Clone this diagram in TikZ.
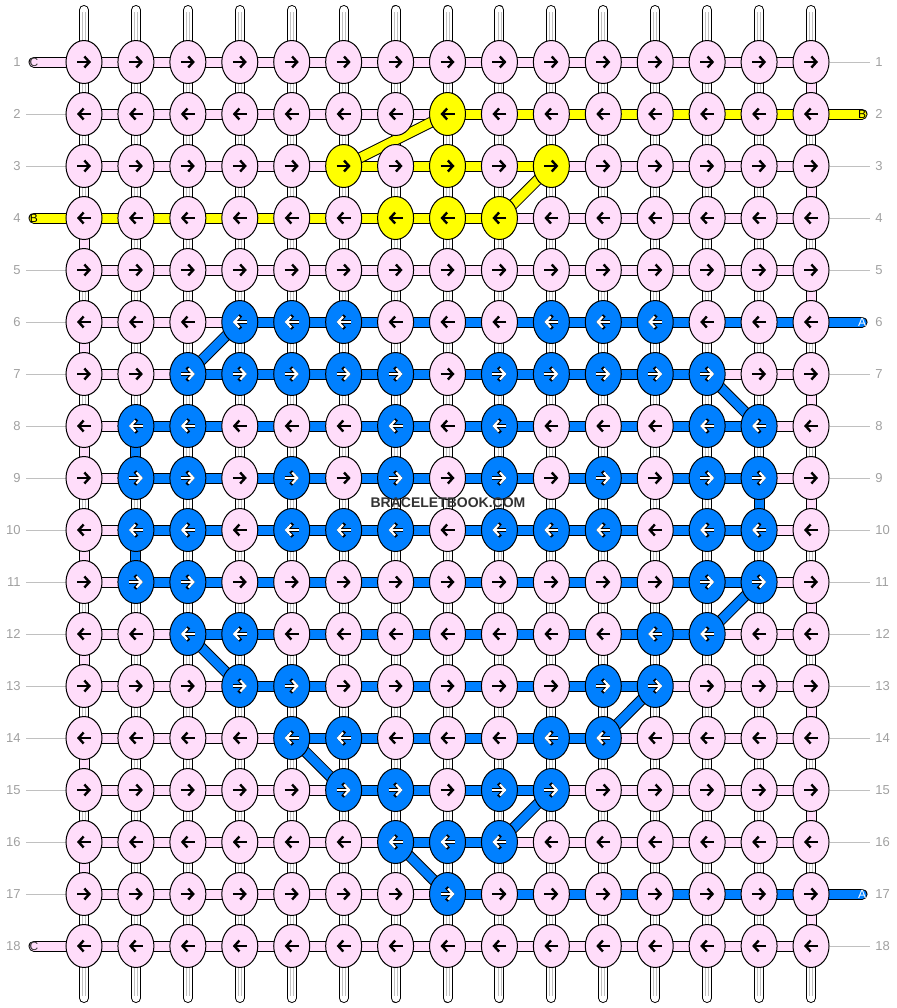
\documentclass[tikz,border=0pt]{standalone}
\usepackage{fontspec}
\setmainfont{Liberation Sans}
\usetikzlibrary{arrows.meta,shapes.geometric}

\definecolor{bbpink}{RGB}{255,221,250}
\definecolor{bbblue}{RGB}{0,128,255}
\definecolor{bbyellow}{RGB}{255,255,0}
\definecolor{bbgray}{RGB}{160,160,160}
\definecolor{bbline}{RGB}{192,192,192}
\definecolor{bbmark}{RGB}{51,51,51}

\pgfdeclarelayer{strings}
\pgfsetlayers{strings,main}

\tikzset{
  knot/.style={ellipse, draw=black, line width=0.5pt, minimum width=18pt, minimum height=21.5pt, inner sep=0pt},
  knotp/.style={knot, fill=bbpink},
  knoty/.style={knot, fill=bbyellow},
  knotb/.style={knot, fill=bbblue},
  knottip/.style={-{Straight Barb[length=2.5pt,width=5.5pt]}},
  arrowp/.style={knottip, line width=1.2pt, draw=black},
  arrowy/.style={arrowp},
  arrowb/.style={knottip, line width=1.1pt, draw=white},
  rimp/.style={draw=none},
  rimy/.style={draw=none},
  rimb/.style={-{Straight Barb[length=2.9pt,width=6.6pt]}, line width=1.7pt, draw=black},
  strand/.style={draw=black, line width=0.5pt, double=#1, double distance=4.5pt},
  tube/.style={strand=white, double distance=4pt, line cap=round},
  tubeline/.style={draw=bbline, line width=0.4pt},
  guide/.style={draw=bbline, line width=0.5pt},
  rowno/.style={inner sep=0pt, text=bbgray, font=\fontsize{6.5}{7}\selectfont},
  endtag/.style={inner sep=0pt, font=\fontsize{6}{7}\selectfont},
  watermark/.style={inner sep=0pt, text=bbmark, font=\fontsize{7}{8}\selectfont\bfseries}
}

\begin{document}
\begin{tikzpicture}[x=0.5pt,y=-0.5pt]
\useasboundingbox (0,0) rectangle (896,1008);

% knots, row by row
\foreach \row [count=\r] in {
  {p,p,p,p,p,p,p,p,p,p,p,p,p,p,p},
  {p,p,p,p,p,p,p,y,p,p,p,p,p,p,p},
  {p,p,p,p,p,y,p,y,p,y,p,p,p,p,p},
  {p,p,p,p,p,p,y,y,y,p,p,p,p,p,p},
  {p,p,p,p,p,p,p,p,p,p,p,p,p,p,p},
  {p,p,p,b,b,b,p,p,p,b,b,b,p,p,p},
  {p,p,b,b,b,b,b,p,b,b,b,b,b,p,p},
  {p,b,b,p,p,p,b,p,b,p,p,p,b,b,p},
  {p,b,b,p,b,p,b,p,b,p,b,p,b,b,p},
  {p,b,b,p,b,b,b,p,b,b,b,p,b,b,p},
  {p,b,b,p,p,p,p,p,p,p,p,p,b,b,p},
  {p,p,b,b,p,p,p,p,p,p,p,b,b,p,p},
  {p,p,p,b,b,p,p,p,p,p,b,b,p,p,p},
  {p,p,p,p,b,b,p,p,p,b,b,p,p,p,p},
  {p,p,p,p,p,b,b,p,b,b,p,p,p,p,p},
  {p,p,p,p,p,p,b,b,b,p,p,p,p,p,p},
  {p,p,p,p,p,p,p,b,p,p,p,p,p,p,p},
  {p,p,p,p,p,p,p,p,p,p,p,p,p,p,p}}{
  \ifodd\r\relax \def\da{-7}\def\db{7}\else \def\da{7}\def\db{-7}\fi
  \foreach \k [count=\c] in \row {
    \node[knot\k] (k-\r-\c) at ({84+(\c-1)*51.93},{62+(\r-1)*52}) {};
    \draw[rim\k] ([shift={(\da,0)}]k-\r-\c.center) -- ([shift={(\db,0)}]k-\r-\c.center);
    \draw[arrow\k] ([shift={(\da,0)}]k-\r-\c.center) -- ([shift={(\db,0)}]k-\r-\c.center);
  }
}

% row numbers and string ends
\foreach \r in {1,...,18} {
  \node[rowno, anchor=east] (ln-\r) at (21,{62+(\r-1)*52}) {\r};
  \node[rowno, anchor=west] (rn-\r) at (875,{62+(\r-1)*52}) {\r};
}
\foreach \r/\t/\tc in {1/C/bbmark, 4/B/black, 18/C/bbmark}
  \node[endtag, text=\tc] (le-\r) at (34,{62+(\r-1)*52}) {\t};
\foreach \r/\t/\tc in {2/B/black, 6/A/white, 17/A/white}
  \node[endtag, text=\tc] (re-\r) at (862,{62+(\r-1)*52}) {\t};

\node[watermark] (wm) at (448,503) {BRACELETBOOK.COM};

\begin{pgfonlayer}{strings}
  % base strings
  \foreach \c in {1,...,15} {
    \coordinate (top-\c) at ({84+(\c-1)*51.93},10);
    \coordinate (bot-\c) at ({84+(\c-1)*51.93},998);
    \draw[tube] (top-\c) -- (bot-\c);
    \draw[tubeline] ([shift={(-1.5,2)}]top-\c) -- ([shift={(-1.5,-2)}]bot-\c);
    \draw[tubeline] ([shift={(1.5,2)}]top-\c) -- ([shift={(1.5,-2)}]bot-\c);
  }
  % turns at the edges
  \foreach \r [evaluate=\r as \s using int(\r+1)] in {1,3,...,17}
    \draw[strand=bbpink] (k-\r-15.center) -- (k-\s-15.center);
  \foreach \r [evaluate=\r as \s using int(\r+1)] in {4,6,...,16}
    \draw[strand=bbpink] (k-\r-1.center) -- (k-\s-1.center);
  \foreach \r/\c [evaluate=\r as \s using int(\r+1)] in {8/2, 10/2, 9/14}
    \draw[strand=bbblue] (k-\r-\c.center) -- (k-\s-\c.center);
  % rows
  \foreach \r/\a/\b/\col in {
    1/1/15/bbpink,
    2/1/8/bbpink, 2/8/15/bbyellow,
    3/1/6/bbpink, 3/6/10/bbyellow, 3/10/15/bbpink,
    4/1/9/bbyellow, 4/9/15/bbpink,
    5/1/15/bbpink,
    6/1/4/bbpink, 6/4/15/bbblue,
    7/1/3/bbpink, 7/3/13/bbblue, 7/13/15/bbpink,
    8/1/2/bbpink, 8/2/14/bbblue, 8/14/15/bbpink,
    9/1/2/bbpink, 9/2/14/bbblue, 9/14/15/bbpink,
    10/1/2/bbpink, 10/2/14/bbblue, 10/14/15/bbpink,
    11/1/2/bbpink, 11/2/14/bbblue, 11/14/15/bbpink,
    12/1/3/bbpink, 12/3/13/bbblue, 12/13/15/bbpink,
    13/1/4/bbpink, 13/4/12/bbblue, 13/12/15/bbpink,
    14/1/5/bbpink, 14/5/11/bbblue, 14/11/15/bbpink,
    15/1/6/bbpink, 15/6/10/bbblue, 15/10/15/bbpink,
    16/1/7/bbpink, 16/7/9/bbblue, 16/9/15/bbpink,
    17/1/8/bbpink, 17/8/15/bbblue,
    18/1/15/bbpink}
    \draw[strand=\col] (k-\r-\a.center) -- (k-\r-\b.center);
  % diagonals
  \foreach \ra/\ca/\rb/\cb/\col in {
    2/8/3/6/bbyellow, 3/10/4/9/bbyellow,
    6/4/7/3/bbblue, 7/13/8/14/bbblue, 11/14/12/13/bbblue, 12/3/13/4/bbblue,
    13/12/14/11/bbblue, 14/5/15/6/bbblue, 15/10/16/9/bbblue, 16/7/17/8/bbblue}
    \draw[strand=\col] (k-\ra-\ca.center) -- (k-\rb-\cb.center);
  % loose ends
  \foreach \r/\col in {1/bbpink, 4/bbyellow, 18/bbpink}
    \draw[strand=\col, line cap=round] (le-\r.center) -- (k-\r-1.center);
  \foreach \r/\col in {2/bbyellow, 6/bbblue, 17/bbblue}
    \draw[strand=\col, line cap=round] (k-\r-15.center) -- (re-\r.center);
  % guide lines
  \foreach \r in {2,3,5,6,...,17}
    \draw[guide] ([xshift=2.5pt]ln-\r.east) -- (k-\r-1.west);
  \foreach \r in {1,3,4,5,7,8,...,16,18}
    \draw[guide] (k-\r-15.east) -- ([xshift=-2.5pt]rn-\r.west);
\end{pgfonlayer}
\end{tikzpicture}
\end{document}
